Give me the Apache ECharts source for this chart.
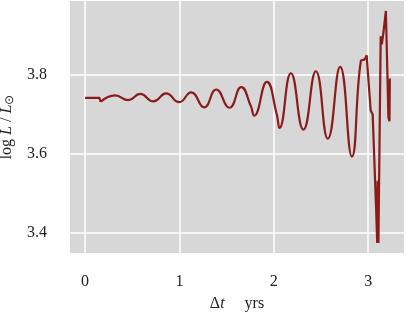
<!DOCTYPE html>
<html><head><meta charset="utf-8">
<script src="https://cdn.jsdelivr.net/npm/echarts@6/dist/echarts.min.js"></script>
<style>html,body{margin:0;padding:0;background:#fff}#c{width:407px;height:318px}</style>
</head><body><div id="c"></div>
<script>
// Flat start segment
const tStart = [0.0, 0.152, 0.166];
const lStart = [3.741, 3.741, 3.731];
// Smooth oscillation segment
const tOsc = [0.166, 0.318, 0.459, 0.583, 0.724, 0.859, 0.996, 1.124, 1.262, 1.389, 1.530, 1.654, 1.757, 1.792, 1.926, 2.032, 2.060, 2.181, 2.314, 2.446, 2.573, 2.703, 2.827, 2.923, 2.961, 2.984];
const lOsc = [3.731, 3.747, 3.735, 3.751, 3.732, 3.752, 3.730, 3.755, 3.717, 3.762, 3.716, 3.768, 3.720, 3.696, 3.781, 3.699, 3.665, 3.803, 3.661, 3.808, 3.638, 3.819, 3.593, 3.834, 3.838, 3.848];
// Final erratic segment
const tEnd = [2.984, 3.027, 3.048, 3.085, 3.096, 3.101, 3.109, 3.133, 3.145, 3.162, 3.188, 3.215, 3.226, 3.230];
const lEnd = [3.848, 3.709, 3.699, 3.458, 3.375, 3.532, 3.375, 3.896, 3.876, 3.906, 3.960, 3.691, 3.682, 3.790];
const xTicks = [0, 1, 2, 3];
const yTicks = [3.4, 3.6, 3.8];

const pair = (a, b) => a.map((v, i) => [v, b[i]]);
const FONT = 'Liberation Serif';
const FS = 16;
const col = '#8b1a1a';
const lineSeries = (data, smooth) => ({
  type: 'line', data, smooth, symbol: 'none',
  lineStyle: { color: col, width: 2.2 }, silent: true, animation: false
});

const chart = echarts.init(document.getElementById('c'), null, { renderer: 'canvas' });
chart.setOption({
  animation: false,
  grid: { left: 70, top: 1, width: 334, height: 252, show: true, backgroundColor: '#d7d7d7', borderWidth: 0, containLabel: false, outerBoundsMode: 'none' },
  xAxis: {
    type: 'value', min: -0.16, max: 3.38,
    axisLine: { show: false }, axisTick: { show: false, customValues: xTicks },
    axisLabel: { customValues: xTicks, margin: 21, fontFamily: FONT, fontSize: FS, color: '#222' },
    splitLine: { show: true, lineStyle: { color: '#fff', width: 1.5 } },
    name: '{n|Δ}{i|t}      {n|yrs}', nameLocation: 'middle', nameGap: 43,
    nameTextStyle: { rich: {
      n: { fontFamily: FONT, fontSize: FS, color: '#222' },
      i: { fontFamily: FONT, fontSize: FS, fontStyle: 'italic', color: '#222' }
    } }
  },
  yAxis: {
    type: 'value', min: 3.35, max: 3.985,
    axisLine: { show: false }, axisTick: { show: false, customValues: yTicks },
    axisLabel: { customValues: yTicks, margin: 23, fontFamily: FONT, fontSize: FS, color: '#222', formatter: v => v.toFixed(1) },
    splitLine: { show: true, lineStyle: { color: '#fff', width: 1.5 } },
    name: '{n|log }{i|L}{n| / }{i|L}{s|⊙}', nameLocation: 'middle', nameGap: 49, nameRotate: 90,
    nameTextStyle: { rich: {
      n: { fontFamily: FONT, fontSize: FS, color: '#222' },
      i: { fontFamily: FONT, fontSize: FS, fontStyle: 'italic', color: '#222' },
      s: { fontFamily: FONT, fontSize: 12, color: '#222', padding: [7, 0, 0, 0] }
    } }
  },
  series: [
    lineSeries(pair(tStart, lStart), false),
    lineSeries(pair(tOsc, lOsc), 0.5),
    lineSeries(pair(tEnd, lEnd), false)
  ]
});
</script></body></html>
